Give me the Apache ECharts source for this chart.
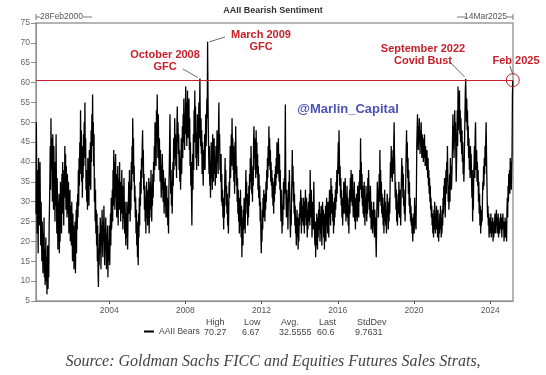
<!DOCTYPE html>
<html>
<head>
<meta charset="utf-8">
<title>AAII Bearish Sentiment</title>
<script src="https://cdn.jsdelivr.net/npm/echarts@6/dist/echarts.min.js"></script>
<style>
  html, body { margin: 0; padding: 0; background: #fff; }
  #chart { width: 546px; height: 375px; }
</style>
</head>
<body>
<div id="chart"></div>
<script>
// weekly AAII bearish readings (%), first week = 28 Feb 2000
const bears2000to2004 = [
  27,50,33,22,38,26,17,41,29,35,24,40,28,19,30,23,15,25,20,12,22,16,26,11,18,9,14,21,10,16,6.67,13,19,8,17,11,24,29,35,44,33,51,38,46,
  42,30,47,35,28,44,32,38,25,40,29,47,33,22,36,27,18,30,24,32,17,28,20,35,26,31,22,37,29,40,27,34,24,38,31,44,36,42,28,39,33,26,37,30,27,35,22,31,25,33,20,29,
  26,19,30,22,15,27,18,24,13,21,16,25,12,20,28,17,30,23,32,26,38,29,41,34,45,37,53,40,48,35,44,31,42,36,47,39,50,43,55,41,46,33,38,30,36,28,41,32,37,29,43,34,
  38,45,33,48,40,52,44,57,46,50,39,47,30,36,25,33,22,28,19,27,15,24,12,8.5,18,14,22,17,26,20,13,24,19,28,21,16,25,20,29,23,14,21,18,26,19,13,22,17,24,11,20,15,
  18,24,14,21,27,19,31,23,26,33,25,38,29,43,35,40,28,36,42,31,37,26,34,29,39,24,32,36,28,40,30,35,25,33,27,38,29,34,23,31,26,36,28,22,30,24,19,27,21,30,23,18,26
];
const bears2005to2009 = [
  29,35,27,38,31,25,34,28,40,33,44,37,51,42,46,35,39,30,34,26,31,22,28,19,25,16,23,14,27,21,31,24,35,29,38,32,41,36,44,48,39,43,33,37,28,34,25,31,22,29,35,26,
  30,24,33,27,36,22,31,26,35,28,38,32,25,34,29,37,31,40,35,44,38,50,42,47,39,53,45,57,48,41,52,44,38,46,40,35,43,37,31,39,33,42,36,30,38,32,27,35,29,36,31,26,
  29,34,26,31,24,30,22,33,38,45,52,41,32,38,29,35,27,33,40,34,46,38,43,51,41,47,39,44,36,49,54,45,50,42,47,38,43,35,41,33,39,46,37,44,49,41,52,45,56,48,43,51,
  50,59,47,55,44,52,58,46,53,49,56,43,51,39,45,34,40,31,24,36,42,33,47,38,53,45,58,49,54,41,47,38,44,52,42,48,39,55,46,53,61,49,44,51,42,48,37,45,40,34,43,38,
  41,47,38,45,52,44,49,56,51,70.27,58,48,42,37,44,34,40,31,38,45,36,42,33,47,39,35,43,46,37,41,34,39,44,36,42,48,40,45,37,49,55,43,47,38,41,35,42,30,37,29,33,26,31
];
const bears2010to2014 = [
  23,30,26,35,41,33,38,29,34,27,32,24,30,22,28,35,31,38,44,36,42,47,39,51,43,46,38,44,35,40,32,45,37,49,41,34,39,30,36,27,33,25,31,22,28,24,33,26,21,29,16,24,
  26,19,28,23,31,25,29,22,33,38,30,35,27,32,24,30,26,34,29,37,33,41,35,44,38,32,36,30,39,34,45,49,41,46,38,43,36,48,40,45,37,42,33,39,31,37,29,34,25,30,22,17,
  24,20,28,23,31,26,33,27,30,25,32,28,35,30,38,33,41,36,44,39,49,42,46,38,43,35,40,34,38,31,36,29,33,27,35,30,37,32,39,34,41,36,45,38,43,37,46,39,35,42,33,38,
  30,25,33,27,22,29,24,31,35,28,36,32,41,54.5,38,30,26,33,27,31,23,29,35,30,38,32,25,21,28,24,32,36,43,34,39,30,35,27,32,24,29,22,26,19,25,28,21,26,18,23,20,27,
  24,30,26,33,28,22,31,25,27,29,24,31,27,22,30,26,33,28,24,31,26,21,28,23,30,25,27,32,24,38,30,26,33,28,21,26,30,23,29,35,27,22,19,25,16,24,19,27,22,18,26,21
];
const bears2015to2019 = [
  28,23,30,25,20,27,22,29,24,19,26,30,24,28,21,25,18,27,23,29,20,26,31,24,28,22,30,25,21,28,33,26,30,24,36,29,34,27,32,25,30,22,28,24,31,26,33,28,35,30,38,32,36,
  40,45,37,48,42,34,39,31,36,29,33,26,31,24,30,27,35,29,33,27,36,30,25,32,28,34,26,31,24,29,22,28,33,27,36,30,38,32,35,29,37,31,26,33,28,35,25,31,23,29,26,32,
  30,25,34,28,32,26,35,30,38,33,46,36,40,31,37,29,34,27,32,26,35,28,24,31,27,34,29,25,32,27,36,30,38,33,28,31,26,34,29,23,30,25,28,22,27,24,30,25,21,28,23,26,
  20,16,24,30,35,28,33,26,31,37,30,43,34,38,29,35,27,32,26,31,24,29,22,27,33,25,30,24,28,22,27,32,26,30,23,28,25,31,27,34,40,36,44,38,41,35,39,43,37,45,50,42,
  38,31,35,28,33,25,30,24,28,32,27,35,30,26,33,28,24,31,36,41,34,39,31,37,29,33,27,31,25,30,37,43,48,40,45,36,41,32,38,29,35,27,31,25,29,24,27,22,26,20,25,23
];
const bears2020to2025 = [
  27,22,31,26,29,24,23,33,44,48,52,47,43,49,45,51,46,42,48,44,50,45,41,47,43,46,40,45,41,47,43,39,44,40,42,38,43,39,36,41,34,38,32,36,30,34,28,31,26,29,24,27,22,
  25,21,28,23,30,26,22,27,24,29,23,26,21,28,24,20,25,22,27,23,29,25,21,26,22,28,24,31,27,34,29,36,30,26,33,38,32,40,35,44,37,30,34,28,32,37,30,41,35,39,33,36,
  40,46,52,43,49,41,47,53,45,50,42,35,40,47,53,44,59,48,56,50,58,47,53,45,51,46,42,48,40,45,37,41,35,39,46,52,58,60.87,55,50,56,48,53,44,49,41,46,38,43,36,44,40,
  42,36,31,38,25,33,28,37,40,44,36,47,50,41,38,43,35,40,34,38,30,35,27,32,24,29,22,26,24,28,25,31,35,33,39,34,41,37,44,39,46,50,42,36,30,26,29,24,27,21,25,22,
  26,23,27,21,25,24,22,26,20,24,21,25,23,27,22,26,24,28,25,22,26,23,27,21,24,25,22,26,24,27,23,25,21,26,24,27,23,25,20,24,22,26,21,25,23,20,28,31,26,34,30,37,
  35,38,32,41,36,40,33,39,42,57,60.6
];
const yearTicks = [2004, 2008, 2012, 2016, 2020, 2024];
const statNames = ['High', 'Low', 'Avg.', 'Last', 'StdDev'];
const statValues = ['70.27', '6.67', '32.5555', '60.6', '9.7631'];
const callouts = [
  { text: 'October 2008\nGFC', near: '2008-10-06' },
  { text: 'March 2009\nGFC', near: '2009-03-02' },
  { text: 'September 2022\nCovid Bust', near: '2022-09-19' },
  { text: 'Feb 2025', near: '2025-03-10' }
];

const allBears = [].concat(bears2000to2004, bears2005to2009, bears2010to2014, bears2015to2019, bears2020to2025);
const startTime = new Date(2000, 1, 28).getTime();
const endTime = new Date(2025, 2, 14).getTime();
const WEEK = 7 * 24 * 3600 * 1000;
const seriesData = allBears.map((v, i) => [startTime + i * WEEK, v]);
const lastPoint = seriesData[seriesData.length - 1];
const tickTimes = yearTicks.map(y => new Date(y, 0, 1).getTime());

const FONT = 'Liberation Sans, Arial, sans-serif';
const RED = '#c8202a';
const AXIS = '#8c8c8c';

const chart = echarts.init(document.getElementById('chart'));
chart.setOption({
  animation: false,
  backgroundColor: '#fff',
  title: {
    text: 'AAII Bearish Sentiment',
    left: 'center',
    top: 1,
    textStyle: { fontFamily: FONT, fontSize: 9, fontWeight: 'bold', color: '#333' }
  },
  grid: {
    left: 36, right: 33, top: 23, bottom: 74,
    show: true, borderColor: '#9c9c9c', borderWidth: 1.5
  },
  legend: {
    data: ['AAII Bears'],
    left: 144, top: 327,
    padding: 0,
    itemWidth: 10, itemHeight: 2,
    icon: 'rect',
    textStyle: { fontFamily: FONT, fontSize: 8.5, color: '#444' }
  },
  xAxis: {
    type: 'value',
    min: startTime,
    max: endTime,
    splitLine: { show: false },
    axisLine: { lineStyle: { color: AXIS, width: 1 } },
    axisTick: { customValues: tickTimes, length: 3, lineStyle: { color: '#555' } },
    axisLabel: {
      customValues: tickTimes,
      margin: 5,
      fontFamily: FONT, fontSize: 8.5, color: '#555',
      formatter: v => String(new Date(v).getFullYear())
    }
  },
  yAxis: {
    type: 'value',
    min: 5, max: 75, interval: 5,
    splitLine: { show: false },
    axisLine: { show: true, lineStyle: { color: AXIS, width: 1 } },
    axisTick: { show: true, length: 5, lineStyle: { color: AXIS } },
    axisLabel: { margin: 6, fontFamily: FONT, fontSize: 8.5, color: '#666' }
  },
  series: [{
    name: 'AAII Bears',
    type: 'line',
    data: seriesData,
    showSymbol: false,
    symbol: 'none',
    lineStyle: { color: '#000', width: 1.3 },
    itemStyle: { color: '#000' },
    markLine: {
      silent: true,
      symbol: 'none',
      label: { show: false },
      lineStyle: { color: RED, width: 1, type: 'solid' },
      data: [{ yAxis: lastPoint[1] }]
    },
    markPoint: {
      silent: true,
      data: [{
        coord: lastPoint,
        symbol: 'circle',
        symbolSize: 13,
        label: { show: false },
        itemStyle: { color: 'rgba(0,0,0,0)', borderColor: RED, borderWidth: 1 }
      }]
    }
  }]
});

// peak of the series within a few weeks of a date
function peakNear(dateStr) {
  const p = dateStr.split('-').map(Number);
  const t = new Date(p[0], p[1] - 1, p[2]).getTime();
  let best = null;
  seriesData.forEach(d => {
    if (Math.abs(d[0] - t) <= 6 * WEEK && (!best || d[1] > best[1])) best = d;
  });
  return chart.convertToPixel({ seriesIndex: 0 }, best);
}

// text anchor (centre) and leader start, in pixels
const calloutLayout = [
  { cx: 165, cy: 61, from: [183, 69], gap: [-2, -1] },
  { cx: 261, cy: 41, from: [225, 37], gap: [2, 0] },
  { cx: 423, cy: 55, from: [450, 62], gap: [-1, -2] },
  { cx: 516, cy: 61, from: [510, 66], gap: [0, -6] }
];

const graphics = [];
callouts.forEach((c, i) => {
  const L = calloutLayout[i];
  const peak = peakNear(c.near);
  graphics.push({
    type: 'text', x: L.cx, y: L.cy,
    style: {
      text: c.text, align: 'center', verticalAlign: 'middle',
      fontFamily: FONT, fontSize: 11, fontWeight: 'bold', lineHeight: 12.5, fill: RED
    }
  });
  graphics.push({
    type: 'line',
    shape: { x1: L.from[0], y1: L.from[1], x2: peak[0] + L.gap[0], y2: peak[1] + L.gap[1] },
    style: { stroke: '#444', lineWidth: 0.8 }
  });
});

// watermark
graphics.push({
  type: 'text', x: 348, y: 109,
  style: {
    text: '@Marlin_Capital', align: 'center', verticalAlign: 'middle',
    fontFamily: FONT, fontSize: 13, fontWeight: 'bold', fill: '#4a52b6'
  }
});

// date range markers above the plot
const pStart = chart.convertToPixel({ xAxisIndex: 0, yAxisIndex: 0 }, [startTime, 75]);
const pEnd = chart.convertToPixel({ xAxisIndex: 0, yAxisIndex: 0 }, [endTime, 75]);
const rangeStyle = { fontFamily: FONT, fontSize: 8.5, fill: '#555', verticalAlign: 'middle' };
graphics.push(
  { type: 'line', shape: { x1: pStart[0], y1: 14, x2: pStart[0], y2: 20 }, style: { stroke: '#555', lineWidth: 0.8 } },
  { type: 'line', shape: { x1: pStart[0], y1: 17, x2: pStart[0] + 4, y2: 17 }, style: { stroke: '#555', lineWidth: 0.8 } },
  { type: 'text', x: pStart[0] + 4, y: 17, style: Object.assign({ text: '28Feb2000', align: 'left' }, rangeStyle) },
  { type: 'line', shape: { x1: pStart[0] + 47, y1: 17, x2: pStart[0] + 56, y2: 17 }, style: { stroke: '#555', lineWidth: 0.8 } },
  { type: 'line', shape: { x1: pEnd[0], y1: 14, x2: pEnd[0], y2: 20 }, style: { stroke: '#555', lineWidth: 0.8 } },
  { type: 'line', shape: { x1: pEnd[0] - 6, y1: 17, x2: pEnd[0], y2: 17 }, style: { stroke: '#555', lineWidth: 0.8 } },
  { type: 'text', x: pEnd[0] - 6, y: 17, style: Object.assign({ text: '14Mar2025', align: 'right' }, rangeStyle) },
  { type: 'line', shape: { x1: pEnd[0] - 56, y1: 17, x2: pEnd[0] - 47, y2: 17 }, style: { stroke: '#555', lineWidth: 0.8 } }
);

// statistics table beside the legend
const statX = [204, 242, 279, 317, 355];
statNames.forEach((n, i) => {
  graphics.push({ type: 'text', x: statX[i] + 2, y: 323, style: { text: n, fontFamily: FONT, fontSize: 9, fill: '#444', verticalAlign: 'middle' } });
  graphics.push({ type: 'text', x: statX[i], y: 333, style: { text: statValues[i], fontFamily: FONT, fontSize: 9, fill: '#444', verticalAlign: 'middle' } });
});

// source line
graphics.push({
  type: 'text', x: 273, y: 362,
  style: {
    text: 'Source: Goldman Sachs FICC and Equities Futures Sales Strats,',
    align: 'center', verticalAlign: 'middle',
    fontFamily: 'Liberation Serif, serif', fontStyle: 'italic', fontSize: 16, fill: '#444'
  }
});

chart.setOption({ graphic: graphics });
</script>
</body>
</html>
